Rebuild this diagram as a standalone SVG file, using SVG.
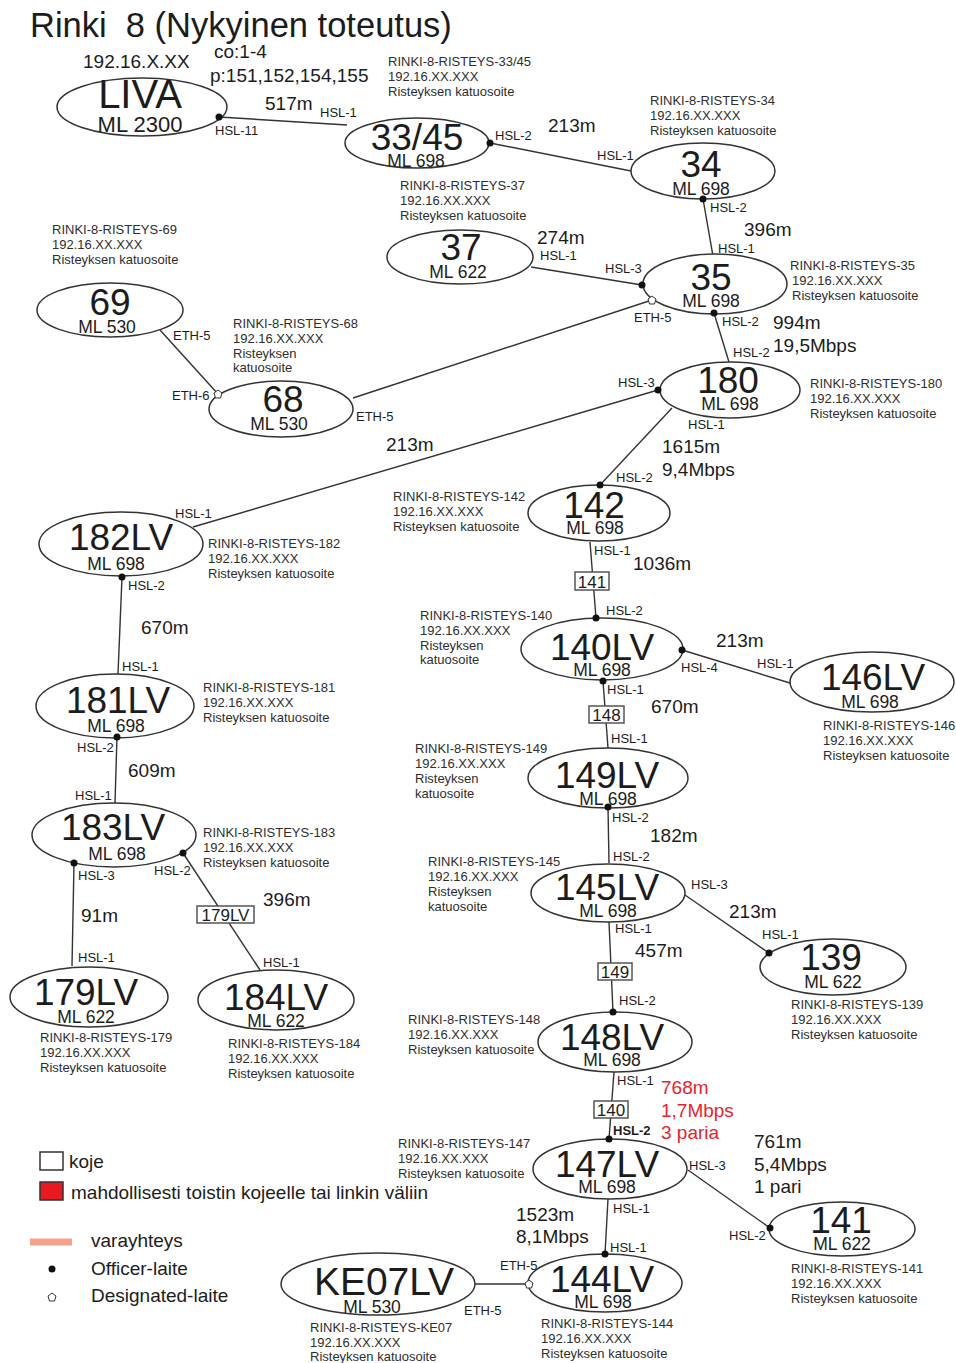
<svg xmlns="http://www.w3.org/2000/svg" width="956" height="1363" viewBox="0 0 956 1363">
<style>
text{font-family:"Liberation Sans",Arial,sans-serif;fill:#1c1c1c}
.n ellipse{fill:#fff;stroke:#333;stroke-width:1.5}
.nt{text-anchor:middle}
.big{font-size:37px}
.ml{font-size:17.5px}
.lab{font-size:13px;fill:#2e2e2e}
.port{font-size:13px;fill:#2e2e2e}
.dist{font-size:19px}
.red{fill:#e8232b}
.dot{fill:#111}
.des{fill:#fff;stroke:#333;stroke-width:1}
#connectors line{stroke:#333;stroke-width:1.4}
.koje rect{fill:#fff;stroke:#555;stroke-width:1.5}
.koje text{font-size:17px;text-anchor:middle}
</style>
<defs>
<polygon id="pent" points="0,-4 4,-1 2.5,4 -2.5,4 -4,-1" class="des"/>
</defs>
<rect width="956" height="1363" fill="#fff"/>
<text x="30" y="37" style="font-size:34.5px">Rinki&#160; 8 (Nykyinen toteutus)</text>
<text class="dist" x="83" y="68">192.16.X.XX</text>
<text class="dist" x="214" y="58">co:1-4</text>
<text class="dist" x="210" y="82">p:151,152,154,155</text>

<g id="connectors">
<line x1="219" y1="117" x2="347" y2="125"/>
<line x1="490" y1="143" x2="631" y2="171"/>
<line x1="703" y1="199" x2="713" y2="256"/>
<line x1="531" y1="267" x2="642" y2="285"/>
<line x1="353" y1="398" x2="652" y2="300"/>
<line x1="160" y1="330" x2="218" y2="394"/>
<line x1="714" y1="313" x2="729" y2="362"/>
<line x1="193" y1="527" x2="658" y2="390"/>
<line x1="672" y1="408" x2="600" y2="485"/>
<line x1="590" y1="542" x2="596" y2="618"/>
<line x1="682" y1="650" x2="790" y2="683"/>
<line x1="603" y1="681" x2="608" y2="748"/>
<line x1="608" y1="807" x2="609" y2="863"/>
<line x1="685" y1="895" x2="769" y2="953"/>
<line x1="609" y1="922" x2="613" y2="1012"/>
<line x1="614" y1="1072" x2="609" y2="1139"/>
<line x1="688" y1="1170" x2="770" y2="1228"/>
<line x1="608" y1="1199" x2="605" y2="1254"/>
<line x1="475" y1="1284" x2="529" y2="1284"/>
<line x1="122" y1="577" x2="118" y2="674"/>
<line x1="117" y1="737" x2="115" y2="803"/>
<line x1="74" y1="863" x2="72" y2="966"/>
<line x1="183" y1="853" x2="260" y2="970"/>
</g>

<g id="devices" class="koje">
<rect x="575" y="572" width="34" height="18"/><text x="592" y="588">141</text>
<rect x="589" y="706" width="35" height="17"/><text x="606.5" y="721">148</text>
<rect x="598" y="963" width="34" height="17"/><text x="615" y="978">149</text>
<rect x="594" y="1101" width="34" height="17"/><text x="611" y="1116">140</text>
<rect x="197" y="906" width="57" height="17"/><text x="225.5" y="921">179LV</text>
</g>

<g id="port-labels" class="port">
<text x="215" y="135">HSL-11</text>
<text x="320" y="117">HSL-1</text>
<text x="495" y="140">HSL-2</text>
<text x="597" y="160">HSL-1</text>
<text x="710" y="212">HSL-2</text>
<text x="718" y="253">HSL-1</text>
<text x="540" y="260">HSL-1</text>
<text x="605" y="273">HSL-3</text>
<text x="634" y="322">ETH-5</text>
<text x="722" y="326">HSL-2</text>
<text x="173" y="340">ETH-5</text>
<text x="172" y="400">ETH-6</text>
<text x="356" y="421">ETH-5</text>
<text x="733" y="357">HSL-2</text>
<text x="618" y="387">HSL-3</text>
<text x="688" y="429">HSL-1</text>
<text x="175" y="518">HSL-1</text>
<text x="616" y="482">HSL-2</text>
<text x="128" y="590">HSL-2</text>
<text x="594" y="555">HSL-1</text>
<text x="122" y="671">HSL-1</text>
<text x="606" y="615">HSL-2</text>
<text x="681" y="672">HSL-4</text>
<text x="757" y="668">HSL-1</text>
<text x="607" y="694">HSL-1</text>
<text x="77" y="752">HSL-2</text>
<text x="611" y="743">HSL-1</text>
<text x="75" y="800">HSL-1</text>
<text x="612" y="822">HSL-2</text>
<text x="613" y="861">HSL-2</text>
<text x="78" y="880">HSL-3</text>
<text x="154" y="875">HSL-2</text>
<text x="691" y="889">HSL-3</text>
<text x="615" y="933">HSL-1</text>
<text x="762" y="939">HSL-1</text>
<text x="78" y="962">HSL-1</text>
<text x="263" y="967">HSL-1</text>
<text x="619" y="1005">HSL-2</text>
<text x="617" y="1085">HSL-1</text>
<text x="613" y="1135" font-weight="bold">HSL-2</text>
<text x="689" y="1170">HSL-3</text>
<text x="613" y="1213">HSL-1</text>
<text x="729" y="1240">HSL-2</text>
<text x="610" y="1252">HSL-1</text>
<text x="500" y="1270">ETH-5</text>
<text x="464" y="1315">ETH-5</text>
</g>

<g id="link-labels" class="dist">
<text x="265" y="110">517m</text>
<text x="548" y="132">213m</text>
<text x="744" y="236">396m</text>
<text x="537" y="244">274m</text>
<text x="773" y="329">994m</text>
<text x="773" y="352">19,5Mbps</text>
<text x="386" y="451">213m</text>
<text x="662" y="453">1615m</text>
<text x="662" y="476">9,4Mbps</text>
<text x="633" y="570">1036m</text>
<text x="141" y="634">670m</text>
<text x="716" y="647">213m</text>
<text x="651" y="713">670m</text>
<text x="128" y="777">609m</text>
<text x="650" y="842">182m</text>
<text x="263" y="906">396m</text>
<text x="81" y="922">91m</text>
<text x="729" y="918">213m</text>
<text x="635" y="957">457m</text>
<text class="red" x="661" y="1094">768m</text>
<text class="red" x="661" y="1117">1,7Mbps</text>
<text class="red" x="661" y="1139">3 paria</text>
<text x="754" y="1148">761m</text>
<text x="754" y="1171">5,4Mbps</text>
<text x="754" y="1193">1 pari</text>
<text x="516" y="1221">1523m</text>
<text x="516" y="1243">8,1Mbps</text>
</g>

<g id="node-LIVA" class="n"><ellipse cx="142" cy="107" rx="85" ry="29"/><text class="nt"><tspan class="big" x="140" y="108" style="font-size:40px">LIVA</tspan><tspan class="ml" x="140" y="132" style="font-size:22px">ML 2300</tspan></text><circle class="dot" cx="219" cy="117" r="3.5"/></g>

<g id="node-3345" class="n"><ellipse cx="417" cy="143" rx="72" ry="25"/><text class="nt"><tspan class="big" x="417" y="150">33/45</tspan><tspan class="ml" x="416" y="167">ML 698</tspan></text><circle class="dot" cx="490" cy="143" r="3.5"/>
<text class="lab" x="388" y="66">RINKI-8-RISTEYS-33/45<tspan x="388" dy="15">192.16.XX.XXX</tspan><tspan x="388" dy="15">Risteyksen katuosoite</tspan></text></g>

<g id="node-34" class="n"><ellipse cx="703" cy="171" rx="72" ry="28"/><text class="nt"><tspan class="big" x="701" y="177">34</tspan><tspan class="ml" x="701" y="195">ML 698</tspan></text><circle class="dot" cx="703" cy="199" r="3.5"/>
<text class="lab" x="650" y="105">RINKI-8-RISTEYS-34<tspan x="650" dy="15">192.16.XX.XXX</tspan><tspan x="650" dy="15">Risteyksen katuosoite</tspan></text></g>

<g id="node-37" class="n"><ellipse cx="460" cy="257" rx="73" ry="27"/><text class="nt"><tspan class="big" x="461" y="260">37</tspan><tspan class="ml" x="458" y="278">ML 622</tspan></text>
<text class="lab" x="400" y="190">RINKI-8-RISTEYS-37<tspan x="400" dy="15">192.16.XX.XXX</tspan><tspan x="400" dy="15">Risteyksen katuosoite</tspan></text></g>

<g id="node-35" class="n"><ellipse cx="715" cy="284" rx="72" ry="30"/><text class="nt"><tspan class="big" x="711" y="290">35</tspan><tspan class="ml" x="711" y="307">ML 698</tspan></text><circle class="dot" cx="642" cy="285" r="3.5"/><circle class="dot" cx="714" cy="313" r="3.5"/><use href="#pent" x="652" y="300"/>
<text class="lab" x="790" y="270">RINKI-8-RISTEYS-35<tspan x="792" dy="15">192.16.XX.XXX</tspan><tspan x="792" dy="15">Risteyksen katuosoite</tspan></text></g>

<g id="node-69" class="n"><ellipse cx="110" cy="310" rx="73" ry="27"/><text class="nt"><tspan class="big" x="110" y="315">69</tspan><tspan class="ml" x="107" y="333">ML 530</tspan></text>
<text class="lab" x="52" y="234">RINKI-8-RISTEYS-69<tspan x="52" dy="15">192.16.XX.XXX</tspan><tspan x="52" dy="15">Risteyksen katuosoite</tspan></text></g>

<g id="node-68" class="n"><ellipse cx="281" cy="409" rx="72" ry="28"/><text class="nt"><tspan class="big" x="283" y="412">68</tspan><tspan class="ml" x="279" y="430">ML 530</tspan></text><use href="#pent" x="218" y="394"/>
<text class="lab" x="233" y="328">RINKI-8-RISTEYS-68<tspan x="233" dy="15">192.16.XX.XXX</tspan><tspan x="233" dy="14.5">Risteyksen</tspan><tspan x="233" dy="14">katuosoite</tspan></text></g>

<g id="node-180" class="n"><ellipse cx="730" cy="390" rx="70" ry="28"/><text class="nt"><tspan class="big" x="728" y="393">180</tspan><tspan class="ml" x="730" y="410">ML 698</tspan></text><circle class="dot" cx="658" cy="390" r="3.5"/>
<text class="lab" x="810" y="388">RINKI-8-RISTEYS-180<tspan x="810" dy="15">192.16.XX.XXX</tspan><tspan x="810" dy="15">Risteyksen katuosoite</tspan></text></g>

<g id="node-142" class="n"><ellipse cx="599" cy="513" rx="71" ry="28"/><text class="nt"><tspan class="big" x="594" y="518">142</tspan><tspan class="ml" x="595" y="534">ML 698</tspan></text><circle class="dot" cx="600" cy="485" r="3.5"/>
<text class="lab" x="393" y="501">RINKI-8-RISTEYS-142<tspan x="393" dy="15">192.16.XX.XXX</tspan><tspan x="393" dy="15">Risteyksen katuosoite</tspan></text></g>

<g id="node-182LV" class="n"><ellipse cx="121" cy="544" rx="82" ry="32"/><text class="nt"><tspan class="big" x="121" y="550">182LV</tspan><tspan class="ml" x="116" y="570">ML 698</tspan></text><circle class="dot" cx="122" cy="577" r="3.5"/>
<text class="lab" x="208" y="548">RINKI-8-RISTEYS-182<tspan x="208" dy="15">192.16.XX.XXX</tspan><tspan x="208" dy="15">Risteyksen katuosoite</tspan></text></g>

<g id="node-140LV" class="n"><ellipse cx="602" cy="649" rx="81" ry="31"/><text class="nt"><tspan class="big" x="602" y="660">140LV</tspan><tspan class="ml" x="602" y="676">ML 698</tspan></text><circle class="dot" cx="596" cy="618" r="3.5"/><circle class="dot" cx="682" cy="650" r="3.5"/><circle class="dot" cx="603" cy="681" r="3.5"/>
<text class="lab" x="420" y="620">RINKI-8-RISTEYS-140<tspan x="420" dy="14.5">192.16.XX.XXX</tspan><tspan x="420" dy="15">Risteyksen</tspan><tspan x="420" dy="14">katuosoite</tspan></text></g>

<g id="node-146LV" class="n"><ellipse cx="872" cy="682" rx="82" ry="30"/><text class="nt"><tspan class="big" x="873" y="690">146LV</tspan><tspan class="ml" x="870" y="708">ML 698</tspan></text>
<text class="lab" x="823" y="730">RINKI-8-RISTEYS-146<tspan x="823" dy="15">192.16.XX.XXX</tspan><tspan x="823" dy="15">Risteyksen katuosoite</tspan></text></g>

<g id="node-181LV" class="n"><ellipse cx="115" cy="706" rx="79" ry="32"/><text class="nt"><tspan class="big" x="118" y="713">181LV</tspan><tspan class="ml" x="116" y="732">ML 698</tspan></text><circle class="dot" cx="117" cy="737" r="3.5"/>
<text class="lab" x="203" y="692">RINKI-8-RISTEYS-181<tspan x="203" dy="15">192.16.XX.XXX</tspan><tspan x="203" dy="15">Risteyksen katuosoite</tspan></text></g>

<g id="node-149LV" class="n"><ellipse cx="608" cy="778" rx="80" ry="30"/><text class="nt"><tspan class="big" x="607" y="788">149LV</tspan><tspan class="ml" x="608" y="805">ML 698</tspan></text><circle class="dot" cx="608" cy="807" r="3.5"/>
<text class="lab" x="415" y="753">RINKI-8-RISTEYS-149<tspan x="415" dy="15">192.16.XX.XXX</tspan><tspan x="415" dy="15">Risteyksen</tspan><tspan x="415" dy="15">katuosoite</tspan></text></g>

<g id="node-183LV" class="n"><ellipse cx="114" cy="835" rx="82" ry="32"/><text class="nt"><tspan class="big" x="113" y="840">183LV</tspan><tspan class="ml" x="117" y="860">ML 698</tspan></text><circle class="dot" cx="74" cy="863" r="3.5"/><circle class="dot" cx="183" cy="853" r="3.5"/>
<text class="lab" x="203" y="837">RINKI-8-RISTEYS-183<tspan x="203" dy="15">192.16.XX.XXX</tspan><tspan x="203" dy="15">Risteyksen katuosoite</tspan></text></g>

<g id="node-145LV" class="n"><ellipse cx="608" cy="893" rx="77" ry="29"/><text class="nt"><tspan class="big" x="607" y="900">145LV</tspan><tspan class="ml" x="608" y="917">ML 698</tspan></text>
<text class="lab" x="428" y="866">RINKI-8-RISTEYS-145<tspan x="428" dy="14.5">192.16.XX.XXX</tspan><tspan x="428" dy="15">Risteyksen</tspan><tspan x="428" dy="15">katuosoite</tspan></text></g>

<g id="node-139" class="n"><ellipse cx="833" cy="967" rx="73" ry="28"/><text class="nt"><tspan class="big" x="831" y="970">139</tspan><tspan class="ml" x="833" y="988">ML 622</tspan></text><circle class="dot" cx="769" cy="953" r="3.5"/>
<text class="lab" x="791" y="1009">RINKI-8-RISTEYS-139<tspan x="791" dy="15">192.16.XX.XXX</tspan><tspan x="791" dy="15">Risteyksen katuosoite</tspan></text></g>

<g id="node-179LV" class="n"><ellipse cx="89" cy="997" rx="79" ry="30"/><text class="nt"><tspan class="big" x="86" y="1005">179LV</tspan><tspan class="ml" x="86" y="1023">ML 622</tspan></text>
<text class="lab" x="40" y="1042">RINKI-8-RISTEYS-179<tspan x="40" dy="15">192.16.XX.XXX</tspan><tspan x="40" dy="15">Risteyksen katuosoite</tspan></text></g>

<g id="node-184LV" class="n"><ellipse cx="276" cy="1000" rx="78" ry="30"/><text class="nt"><tspan class="big" x="276" y="1010">184LV</tspan><tspan class="ml" x="276" y="1027">ML 622</tspan></text>
<text class="lab" x="228" y="1048">RINKI-8-RISTEYS-184<tspan x="228" dy="15">192.16.XX.XXX</tspan><tspan x="228" dy="15">Risteyksen katuosoite</tspan></text></g>

<g id="node-148LV" class="n"><ellipse cx="615" cy="1042" rx="77" ry="30"/><text class="nt"><tspan class="big" x="612" y="1050">148LV</tspan><tspan class="ml" x="612" y="1066">ML 698</tspan></text><circle class="dot" cx="613" cy="1012" r="3.5"/>
<text class="lab" x="408" y="1024">RINKI-8-RISTEYS-148<tspan x="408" dy="15">192.16.XX.XXX</tspan><tspan x="408" dy="15">Risteyksen katuosoite</tspan></text></g>

<g id="node-147LV" class="n"><ellipse cx="610" cy="1169" rx="77" ry="30"/><text class="nt"><tspan class="big" x="607" y="1177">147LV</tspan><tspan class="ml" x="607" y="1193">ML 698</tspan></text><circle class="dot" cx="609" cy="1139" r="3.5"/>
<text class="lab" x="398" y="1148">RINKI-8-RISTEYS-147<tspan x="398" dy="15">192.16.XX.XXX</tspan><tspan x="398" dy="15">Risteyksen katuosoite</tspan></text></g>

<g id="node-141" class="n"><ellipse cx="842" cy="1229" rx="73" ry="27"/><text class="nt"><tspan class="big" x="841" y="1233">141</tspan><tspan class="ml" x="842" y="1250">ML 622</tspan></text><circle class="dot" cx="770" cy="1228" r="3.5"/>
<text class="lab" x="791" y="1273">RINKI-8-RISTEYS-141<tspan x="791" dy="15">192.16.XX.XXX</tspan><tspan x="791" dy="15">Risteyksen katuosoite</tspan></text></g>

<g id="node-144LV" class="n"><ellipse cx="605" cy="1283" rx="77" ry="29"/><text class="nt"><tspan class="big" x="602" y="1292">144LV</tspan><tspan class="ml" x="603" y="1308">ML 698</tspan></text><circle class="dot" cx="605" cy="1254" r="3.5"/><use href="#pent" x="529" y="1284"/>
<text class="lab" x="541" y="1328">RINKI-8-RISTEYS-144<tspan x="541" dy="15">192.16.XX.XXX</tspan><tspan x="541" dy="15">Risteyksen katuosoite</tspan></text></g>

<g id="node-KE07LV" class="n"><ellipse cx="378" cy="1284" rx="97" ry="31"/><text class="nt"><tspan class="big" x="384" y="1295" style="font-size:39px">KE07LV</tspan><tspan class="ml" x="372" y="1313">ML 530</tspan></text>
<text class="lab" x="310" y="1332">RINKI-8-RISTEYS-KE07<tspan x="310" dy="14.5">192.16.XX.XXX</tspan><tspan x="310" dy="14">Risteyksen katuosoite</tspan></text></g>

<g id="legend" style="font-size:19px">
<rect x="40" y="1152" width="23" height="18" fill="#fff" stroke="#333" stroke-width="1.5"/>
<text x="69" y="1168" style="font-size:19px">koje</text>
<rect x="40" y="1182" width="23" height="18" fill="#e8191f" stroke="#333" stroke-width="1.5"/>
<text x="71" y="1199" style="font-size:19px">mahdollisesti toistin kojeelle tai linkin väliin</text>
<line x1="30" y1="1242" x2="72" y2="1242" stroke="#f5a08a" stroke-width="7"/>
<text x="91" y="1247" style="font-size:19px">varayhteys</text>
<circle class="dot" cx="52" cy="1269" r="3.5"/>
<text x="91" y="1275" style="font-size:19px">Officer-laite</text>
<use href="#pent" x="52" y="1297"/>
<text x="91" y="1302" style="font-size:19px">Designated-laite</text>
</g>
</svg>
